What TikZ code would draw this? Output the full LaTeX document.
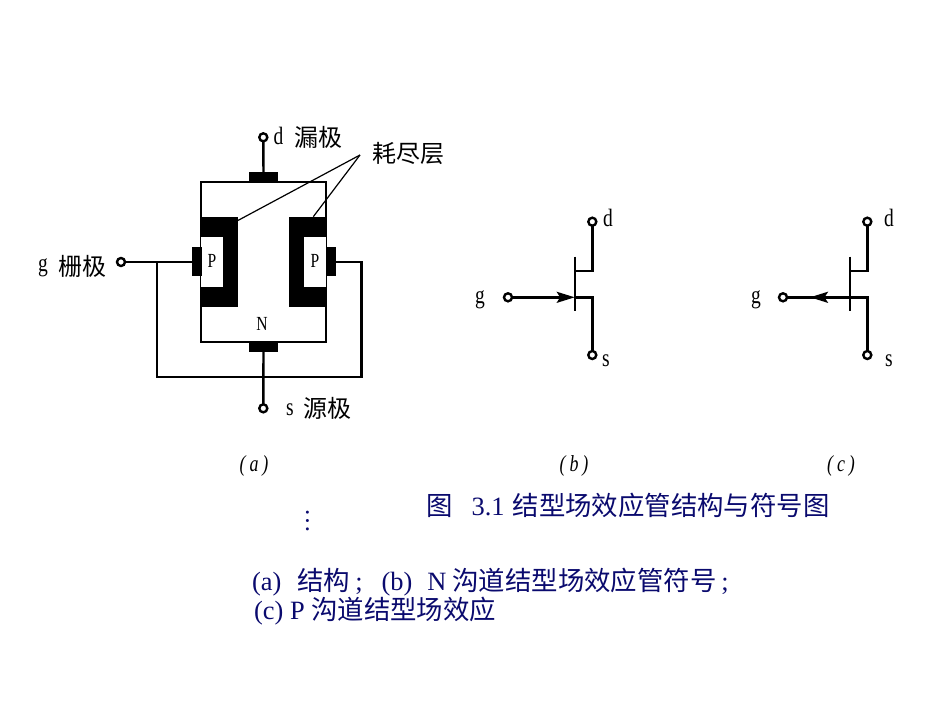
\documentclass[tikz,border=0pt]{standalone}
\usepackage{fontspec}
\setmainfont{Liberation Serif}
\newfontfamily\cjk{Noto Sans CJK SC}
\newfontfamily\narrow{Liberation Serif}[FakeStretch=0.78]
\newcommand\zh[1]{{\cjk #1}}
\usetikzlibrary{arrows.meta}
\definecolor{cap}{RGB}{10,10,110}
\tikzset{
 wire/.style={line width=2.4pt,black},
 thin wire/.style={line width=1.2pt,black},
 term/.style={circle,draw=black,fill=white,line width=2.4pt,inner sep=0pt,minimum size=8pt},
 solid block/.style={fill=black,draw=none,inner sep=0pt},
 pwin/.style={fill=white,draw=none,inner sep=0pt,minimum width=21.5pt,minimum height=50.5pt},
 lab/.style={inner sep=0pt,font=\fontsize{25}{27}\narrow\selectfont,text=black},
 small lab/.style={inner sep=0pt,font=\fontsize{20}{22}\narrow\selectfont,text=black},
 zhlab/.style={inner sep=0pt,font=\fontsize{24}{26}\cjk\selectfont,text=black},
 subcap/.style={inner sep=0pt,font=\fontsize{23}{25}\narrow\itshape\selectfont,text=black},
 caption/.style={inner sep=0pt,anchor=west,font=\fontsize{26.4}{28}\selectfont,text=cap},
 tip/.style={-{Stealth[length=18pt,width=11pt,inset=3.5pt]}},
}
\begin{document}
\begin{tikzpicture}[x=1pt,y=-1pt]
\useasboundingbox (0,0) rectangle (950,713);
\fill[white] (0,0) rectangle (950,713);
% channel body
\node[draw=black,line width=2.4pt,minimum width=125pt,minimum height=160pt,inner sep=0pt] (body) at (263.5,262) {};
% depletion blocks
\node[solid block,minimum width=37.4pt,minimum height=90.6pt] (depl) at (219,262) {};
\node[solid block,minimum width=37.4pt,minimum height=90.6pt] (depr) at (308,262) {};
\node[pwin] (winl) at (212,262) {};
\node[pwin] (winr) at (315.2,262) {};
\node[small lab] (pl) at (212,261) {P};
\node[small lab] (pr) at (315,261) {P};
\node[small lab] (nn) at (262,324) {N};
% contacts
\node[solid block,minimum width=29pt,minimum height=10pt] (ctop) at (263.5,177) {};
\node[solid block,minimum width=29pt,minimum height=10pt] (cbot) at (263.5,347) {};
\node[solid block,minimum width=10pt,minimum height=28.5pt] (cl) at (196.5,261.5) {};
\node[solid block,minimum width=10pt,minimum height=28.5pt] (cr) at (331,261.5) {};
% terminals
\coordinate (ll) at (157,377);
\coordinate (lr) at (361.3,377);
\coordinate (ur) at (361.3,262);
\coordinate (j) at (157,262);
\coordinate (gend) at (192,262);
\coordinate (rend) at (335,262);
\draw[wire] (263.3,137.3) coordinate (dp) -- (ctop);
\draw[wire] (cbot) -- (263.3,408.3) coordinate (sp);
\draw[wire] (121,262) coordinate (gp) -- (gend);
\draw[wire,line join=miter] (j) -- (ll) -- (lr) -- (ur) -- (rend);
\node[term] (d) at (dp) {};
\node[term] (s) at (sp) {};
\node[term] (g) at (gp) {};
% leaders
\coordinate (la) at (360,155);
\coordinate (lb) at (237.5,220.7);
\coordinate (lc) at (313.3,216.7);
\draw[thin wire] (la) -- (lb);
\draw[thin wire] (la) -- (lc);
% labels a
\node[lab] (dl) at (278.5,136) {d};
\node[zhlab] (dz) at (318,137) {漏极};
\node[zhlab] (dep) at (408,153) {耗尽层};
\node[lab] (gl) at (43,268) {g};
\node[zhlab] (gz) at (82,266) {栅极};
\node[lab] (sl) at (290,410) {s};
\node[zhlab] (sz) at (327,408) {源极};
% symbol b
\coordinate (bdp) at (592.3,221.7);
\coordinate (bsp) at (592.3,355);
\coordinate (bgp) at (508,297.3);
\coordinate (bt) at (574.7,256.7);
\coordinate (bb) at (574.7,311);
\coordinate (bj) at (574.7,297.3);
\coordinate (bdt) at (574.7,270.7);
\coordinate (bdc) at (592.3,270.7);
\coordinate (bsc) at (592.3,297.3);
\draw[wire] (bt) -- (bb);
\draw[wire,line join=miter] (bdt) -- (bdc) -- (bdp);
\draw[wire,line join=miter] (bj) -- (bsc) -- (bsp);
\draw[wire,tip] (bgp) -- (bj);
\node[term] (bd) at (bdp) {};
\node[term] (bs) at (bsp) {};
\node[term] (bg) at (bgp) {};
\node[lab] (bgl) at (480,300) {g};
\node[lab] (bdl) at (608,218) {d};
\node[lab] (bsl) at (606,361) {s};
% symbol c
\coordinate (cdp) at (867.3,221.7);
\coordinate (csp) at (867.3,355);
\coordinate (cgp) at (783,297.3);
\coordinate (ct) at (850,256.7);
\coordinate (cb) at (850,311);
\coordinate (cj) at (850,297.3);
\coordinate (cdt) at (850,270.7);
\coordinate (cdc) at (867.3,270.7);
\coordinate (csc) at (867.3,297.3);
\coordinate (ctip) at (810,297.3);
\draw[wire] (ct) -- (cb);
\draw[wire,line join=miter] (cdt) -- (cdc) -- (cdp);
\draw[wire,line join=miter] (cj) -- (csc) -- (csp);
\draw[wire] (cj) -- (cgp);
\draw[wire,tip] (cj) -- (ctip);
\node[term] (cd) at (cdp) {};
\node[term] (cs) at (csp) {};
\node[term] (cg) at (cgp) {};
\node[lab] (cgl) at (756,300) {g};
\node[lab] (cdl) at (889,218) {d};
\node[lab] (csl) at (889,361) {s};
% sub captions
\node[subcap] (sa) at (254,466) {(\,a\,)};
\node[subcap] (sb) at (574,466) {(\,b\,)};
\node[subcap] (sc) at (841,466) {(\,c\,)};
% captions
\node[caption] (title) at (426,505) {\zh{图}\hspace{19pt}3.1\hspace{8pt}\zh{结型场效应管结构与符号图}};
\node[inner sep=0pt,text=cap,font=\fontsize{25}{27}\selectfont,rotate=-90] (dots) at (307.6,521) {…};
\node[caption] (l1) at (252,582) {(a)\hspace{16pt}\zh{结构}\hspace{5pt};\hspace{19pt}(b)\hspace{15pt}N\hspace{6pt}\zh{沟道结型场效应管符号}\hspace{5pt};};
\node[caption] (l2) at (254,611) {(c) P \zh{沟道结型场效应}};
\end{tikzpicture}
\end{document}
